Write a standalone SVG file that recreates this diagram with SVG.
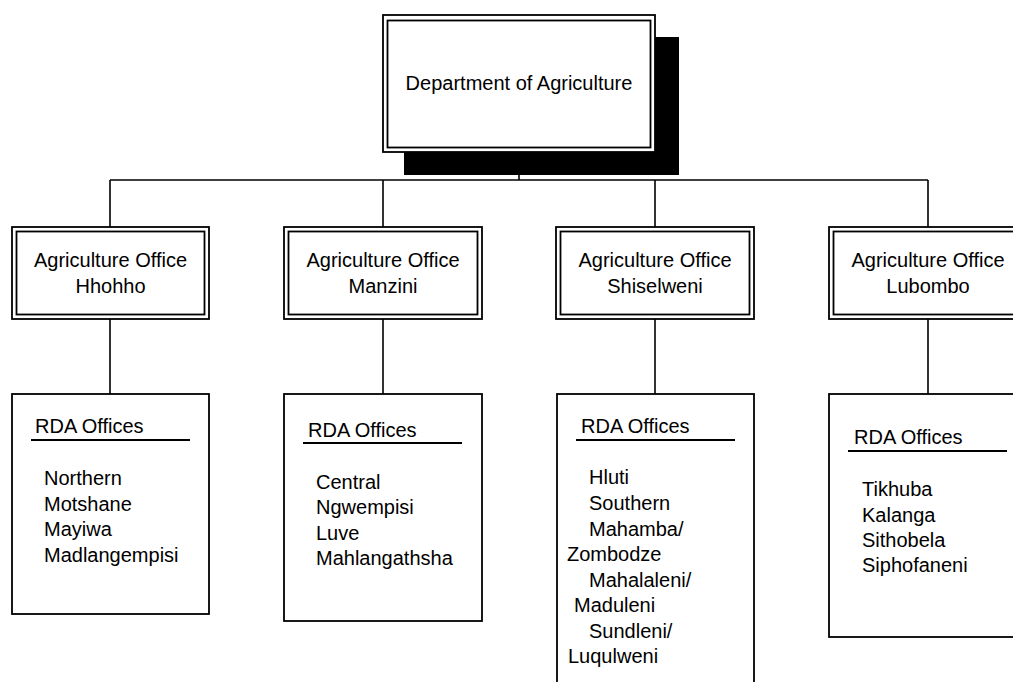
<svg xmlns="http://www.w3.org/2000/svg" width="1013" height="682" viewBox="0 0 1013 682">
  <style>
    .frame { fill: #ffffff; stroke: #000000; stroke-width: 1.8; }
    .inner { fill: none; stroke: #000000; stroke-width: 1.8; }
    .wire { fill: none; stroke: #000000; stroke-width: 1.6; }
    .rule { stroke: #000000; stroke-width: 1.8; }
    text { font-family: "Liberation Sans", Arial, sans-serif; font-size: 20px; fill: #000000; }
    .mid { text-anchor: middle; }
  </style>
  <rect width="1013" height="682" fill="#ffffff"/>

  <!-- connectors -->
  <g id="connectors">
    <path class="wire" d="M519 152 V180 M110 180 H928 M110 180 V227 M383 180 V227 M655 180 V227 M928 180 V227"/>
    <path class="wire" d="M110 319 V394 M383 319 V394 M655 319 V394 M928 319 V394"/>
  </g>

  <!-- head office with drop shadow -->
  <g id="department">
    <rect x="404" y="37" width="275" height="138" fill="#000000"/>
    <rect class="frame" x="383" y="15" width="272" height="137"/>
    <rect class="inner" x="387.5" y="20.5" width="263" height="127"/>
    <text class="mid" x="519" y="90">Department of Agriculture</text>
  </g>

  <!-- regional agriculture offices -->
  <g id="office-hhohho">
    <rect class="frame" x="12" y="227" width="197" height="92"/>
    <rect class="inner" x="16.5" y="231.5" width="188" height="83"/>
    <text class="mid" x="110.5" y="267">Agriculture Office</text>
    <text class="mid" x="110.5" y="293">Hhohho</text>
  </g>
  <g id="office-manzini">
    <rect class="frame" x="284" y="227" width="198" height="92"/>
    <rect class="inner" x="288.5" y="231.5" width="189" height="83"/>
    <text class="mid" x="383" y="267">Agriculture Office</text>
    <text class="mid" x="383" y="293">Manzini</text>
  </g>
  <g id="office-shiselweni">
    <rect class="frame" x="556" y="227" width="198" height="92"/>
    <rect class="inner" x="560.5" y="231.5" width="189" height="83"/>
    <text class="mid" x="655" y="267">Agriculture Office</text>
    <text class="mid" x="655" y="293">Shiselweni</text>
  </g>
  <g id="office-lubombo">
    <rect class="frame" x="829" y="227" width="198" height="92"/>
    <rect class="inner" x="833.5" y="231.5" width="189" height="83"/>
    <text class="mid" x="928" y="267">Agriculture Office</text>
    <text class="mid" x="928" y="293">Lubombo</text>
  </g>

  <!-- RDA office lists -->
  <g id="rda-hhohho">
    <rect class="frame" x="12" y="394" width="197" height="220"/>
    <text x="35" y="433">RDA Offices</text>
    <line class="rule" x1="31" y1="440" x2="190" y2="440"/>
    <text x="44" y="485">Northern</text>
    <text x="44" y="511">Motshane</text>
    <text x="44" y="536">Mayiwa</text>
    <text x="44" y="562">Madlangempisi</text>
  </g>
  <g id="rda-manzini">
    <rect class="frame" x="284" y="394" width="198" height="227"/>
    <text x="308" y="437">RDA Offices</text>
    <line class="rule" x1="303" y1="443" x2="462" y2="443"/>
    <text x="316" y="489">Central</text>
    <text x="316" y="514">Ngwempisi</text>
    <text x="316" y="540">Luve</text>
    <text x="316" y="565">Mahlangathsha</text>
  </g>
  <g id="rda-shiselweni">
    <rect class="frame" x="557" y="394" width="197" height="310"/>
    <text x="581" y="433">RDA Offices</text>
    <line class="rule" x1="576" y1="440" x2="735" y2="440"/>
    <text x="589" y="484">Hluti</text>
    <text x="589" y="510">Southern</text>
    <text x="589" y="536">Mahamba/</text>
    <text x="567" y="561">Zombodze</text>
    <text x="589" y="587">Mahalaleni/</text>
    <text x="574" y="612">Maduleni</text>
    <text x="589" y="638">Sundleni/</text>
    <text x="568" y="663">Luqulweni</text>
  </g>
  <g id="rda-lubombo">
    <rect class="frame" x="829" y="394" width="198" height="243"/>
    <text x="854" y="444">RDA Offices</text>
    <line class="rule" x1="848" y1="451" x2="1007" y2="451"/>
    <text x="862" y="496">Tikhuba</text>
    <text x="862" y="522">Kalanga</text>
    <text x="862" y="547">Sithobela</text>
    <text x="862" y="572">Siphofaneni</text>
  </g>
</svg>
